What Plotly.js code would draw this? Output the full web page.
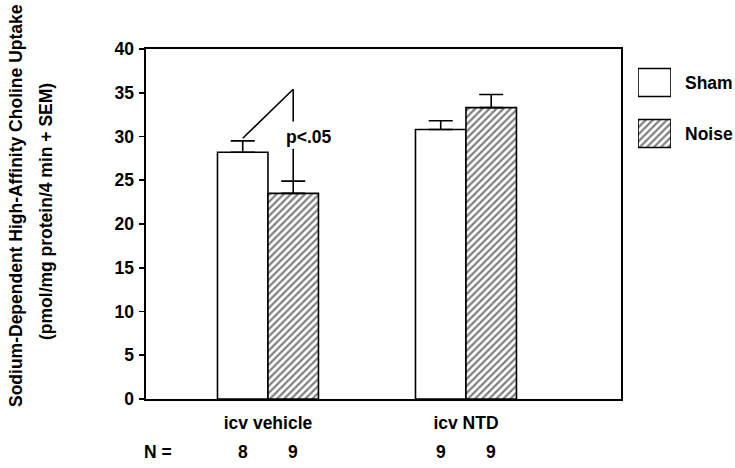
<!DOCTYPE html>
<html>
<head>
<meta charset="utf-8">
<script src="https://cdn.plot.ly/plotly-3.0.1.min.js"></script>
<style>html,body{margin:0;padding:0;background:#fff;}#chart{width:735px;height:468px;}</style>
</head>
<body>
<div id="chart"></div>
<script>
// ---- data ----
const categories = ['icv vehicle', 'icv NTD'];
const shamMean = [28.2, 30.8];
const shamSEM = [1.3, 1.0];
const noiseMean = [23.5, 33.3];
const noiseSEM = [1.4, 1.5];
const nSham = [8, 9];
const nNoise = [9, 9];
const yTicks = [0, 5, 10, 15, 20, 25, 30, 35, 40];
const seriesNames = ['Sham', 'Noise'];
const sigText = 'p<.05';

// ---- styling / layout constants ----
const FONT = 'Liberation Sans, Arial, Helvetica, sans-serif';
const FS = 17.5;
const FW = 'bold';
const fnt = {family: FONT, size: FS, color: '#000', weight: FW};
const W = 735, H = 468;
const ML = 146, MR = 0, MT = 49, MB = 69;
const PW = W - ML - MR, PH = H - MT - MB;
const px2fx = p => (p - ML) / PW;
const py2fy = p => 1 - (p - MT) / PH;
const BARGAP = 0.49;
const off = (1 - BARGAP) / 4; // bar centre offset within group
const hatch = {shape: '/', size: 5, solidity: 0.45, fgcolor: '#000', bgcolor: '#fff', fillmode: 'overlay'};
const lineBlack = {color: '#000', width: 1.6};

const traces = [
  {
    type: 'bar', name: seriesNames[0], x: categories, y: shamMean,
    marker: {color: '#fff', line: lineBlack},
    error_y: {type: 'data', symmetric: false, array: shamSEM, arrayminus: shamSEM.map(() => 0), color: '#000', thickness: 1.6, width: 12},
    showlegend: false, hoverinfo: 'skip'
  },
  {
    type: 'bar', name: seriesNames[1], x: categories, y: noiseMean,
    marker: {color: '#fff', line: lineBlack, pattern: hatch},
    error_y: {type: 'data', symmetric: false, array: noiseSEM, arrayminus: noiseSEM.map(() => 0), color: '#000', thickness: 1.6, width: 12},
    showlegend: false, hoverinfo: 'skip'
  },
  // legend key boxes (own small axes)
  {
    type: 'bar', orientation: 'h', x: [1], y: [seriesNames[0]], xaxis: 'x2', yaxis: 'y2',
    width: 0.55, offset: -0.275, cliponaxis: false,
    marker: {color: '#fff', line: lineBlack}, showlegend: false, hoverinfo: 'skip'
  },
  {
    type: 'bar', orientation: 'h', x: [1], y: [seriesNames[1]], xaxis: 'x2', yaxis: 'y2',
    width: 0.55, offset: -0.275, cliponaxis: false,
    marker: {color: '#fff', line: lineBlack, pattern: hatch}, showlegend: false, hoverinfo: 'skip'
  }
];

// significance bracket
const sigPeak = 35.4;
const shapes = [
  {type: 'line', xref: 'x', yref: 'y', x0: 0 - off, y0: shamMean[0] + shamSEM[0] + 0.3, x1: 0 + off, y1: sigPeak, line: lineBlack},
  {type: 'line', xref: 'x', yref: 'y', x0: 0 + off, y0: sigPeak, x1: 0 + off, y1: 31.7, line: lineBlack},
  {type: 'line', xref: 'x', yref: 'y', x0: 0 + off, y0: 28.6, x1: 0 + off, y1: noiseMean[0] + noiseSEM[0], line: lineBlack}
];

const annotations = [
  {xref: 'x', yref: 'y', x: 0 + off, y: 29.9, xshift: 16, text: sigText, showarrow: false, font: fnt},
  {xref: 'paper', yref: 'paper', x: px2fx(16), y: py2fy(206), text: 'Sodium-Dependent High-Affinity Choline Uptake', textangle: -90, showarrow: false, xanchor: 'center', yanchor: 'middle', font: fnt},
  {xref: 'paper', yref: 'paper', x: px2fx(46), y: py2fy(212), text: '(pmol/mg protein/4 min + SEM)', textangle: -90, showarrow: false, xanchor: 'center', yanchor: 'middle', font: fnt},
  {xref: 'paper', yref: 'paper', x: px2fx(158), y: py2fy(452), text: 'N =', showarrow: false, xanchor: 'center', yanchor: 'middle', font: fnt}
];
categories.forEach((c, i) => {
  annotations.push({xref: 'x', yref: 'paper', x: i - off, y: py2fy(452), text: String(nSham[i]), showarrow: false, xanchor: 'center', yanchor: 'middle', font: fnt});
  annotations.push({xref: 'x', yref: 'paper', x: i + off, y: py2fy(452), text: String(nNoise[i]), showarrow: false, xanchor: 'center', yanchor: 'middle', font: fnt});
});

const layout = {
  width: W, height: H,
  margin: {l: ML, r: MR, t: MT, b: MB, pad: 0},
  paper_bgcolor: '#fff', plot_bgcolor: '#fff',
  font: fnt,
  barmode: 'group', bargap: BARGAP, bargroupgap: 0,
  showlegend: false,
  xaxis: {
    type: 'category', domain: [0, (621 - ML) / PW], range: [-0.616, 1.783],
    showline: true, linecolor: '#000', linewidth: 1.6, mirror: true,
    ticks: '', showgrid: false, zeroline: false, ticklabelstandoff: 7,
    tickfont: fnt, fixedrange: true
  },
  yaxis: {
    range: [0, 40], tickvals: yTicks, ticktext: yTicks.map(String),
    showline: true, linecolor: '#000', linewidth: 1.6, mirror: true,
    ticks: 'outside', ticklen: 5, tickwidth: 1.6, tickcolor: '#000',
    showgrid: false, zeroline: false, ticklabelstandoff: 2,
    tickfont: fnt, fixedrange: true
  },
  xaxis2: {
    domain: [px2fx(638), px2fx(671)], range: [0, 1], anchor: 'y2',
    visible: false, fixedrange: true
  },
  yaxis2: {
    domain: [py2fy(159), py2fy(57)], anchor: 'x2', type: 'category',
    categoryorder: 'array', categoryarray: [seriesNames[1], seriesNames[0]],
    range: [-0.5, 1.5], side: 'right', showline: false, showgrid: false, zeroline: false,
    ticks: '', ticklabelstandoff: 13, tickfont: fnt, fixedrange: true
  },
  shapes: shapes,
  annotations: annotations
};

Plotly.newPlot('chart', traces, layout, {displayModeBar: false, staticPlot: true});
</script>
</body>
</html>
